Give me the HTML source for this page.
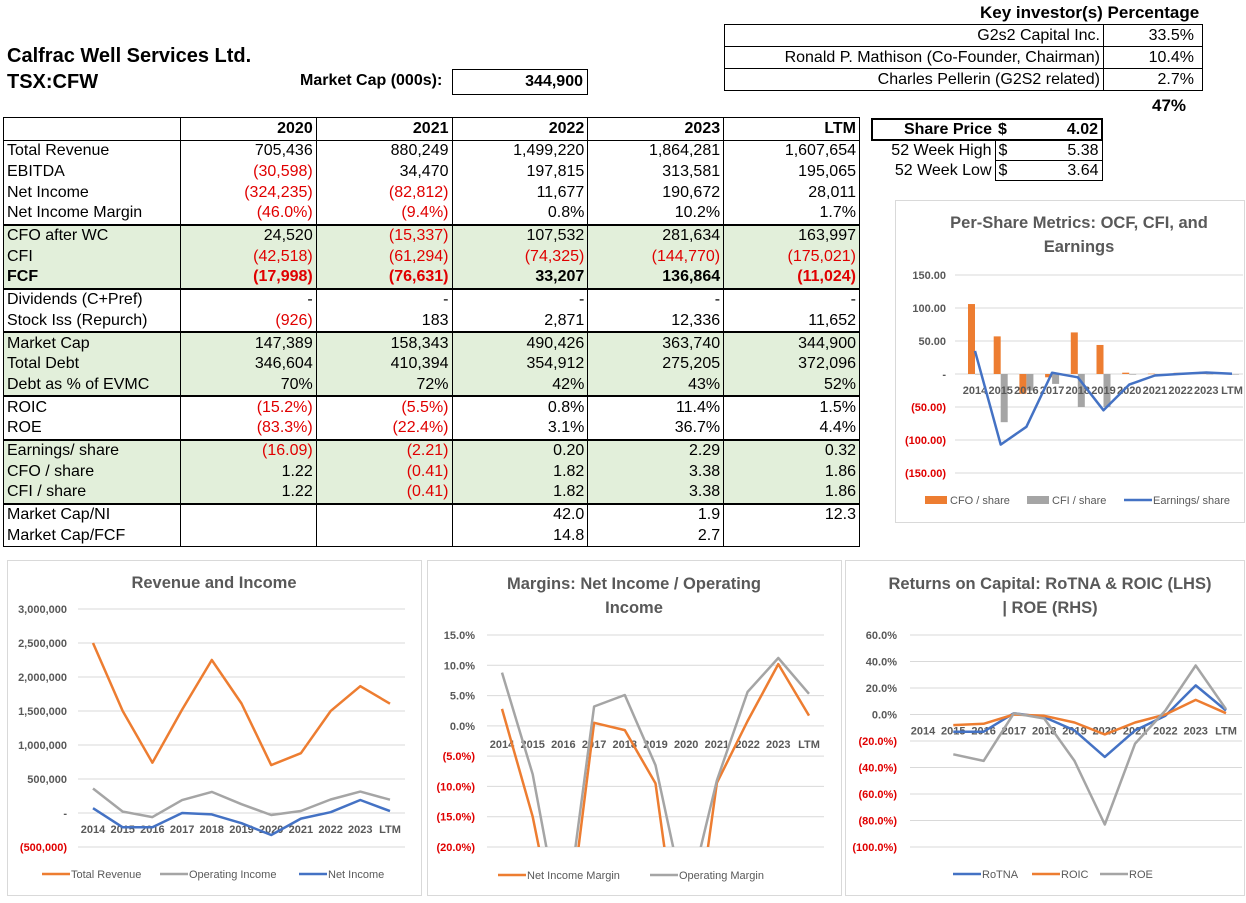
<!DOCTYPE html>
<html><head><meta charset="utf-8"><style>
body{margin:0;width:1246px;height:903px;background:#fff;position:relative;overflow:hidden;font-family:"Liberation Sans",Arial,sans-serif;color:#000}
.a{position:absolute;white-space:nowrap}
table{border-collapse:collapse;position:absolute;font-size:16px}
td{padding:0 3px;height:19px;line-height:19px;border:1px solid #000;overflow:hidden;white-space:nowrap}
.t td{border-left:1px solid #000;border-right:1px solid #000;border-top:none;border-bottom:none;line-height:20px}
.r{text-align:right}.n{color:#e00000}.g{background:#e2efda}.b{font-weight:bold}
.tb td{border-top:2px solid #000}
.box{position:absolute;border:1px solid #d9d9d9;background:#fff}
svg text{font-family:"Liberation Sans",Arial,sans-serif}
</style></head><body>
<div class="a b" style="left:7px;top:45px;font-size:20px">Calfrac Well Services Ltd.</div>
<div class="a b" style="left:7px;top:71px;font-size:20px">TSX:CFW</div>
<div class="a b" style="left:300px;top:72px;font-size:16px">Market Cap (000s):</div>
<div class="a b" style="left:452px;top:69px;width:134px;height:24px;border:1px solid #000;text-align:right;font-size:16px;line-height:24px"><span style="margin-right:4px">344,900</span></div>

<div class="a b" style="left:980px;top:3px;font-size:17px">Key investor(s) Percentage</div>
<table style="left:724px;top:24px;width:479px">
<tr><td class="r" style="height:21px;width:372px">G2s2 Capital Inc.</td><td class="r" style="padding-right:8px">33.5%</td></tr>
<tr><td class="r" style="height:21px">Ronald P. Mathison (Co-Founder, Chairman)</td><td class="r" style="padding-right:8px">10.4%</td></tr>
<tr><td class="r" style="height:21px">Charles Pellerin (G2S2 related)</td><td class="r" style="padding-right:8px">2.7%</td></tr>
</table>
<div class="a b" style="left:1152px;top:96px;font-size:17px">47%</div>

<table style="left:871px;top:118px;width:232px">
<tr><td class="r b" style="border:2px solid #000;border-right:none;width:116px">Share Price</td><td class="b" style="border:2px solid #000;border-left:none">$<span style="float:right">4.02</span></td></tr>
<tr><td class="r" style="border:none;border-right:1px solid #000">52 Week High</td><td>$<span style="float:right">5.38</span></td></tr>
<tr><td class="r" style="border:none;border-right:1px solid #000">52 Week Low</td><td>$<span style="float:right">3.64</span></td></tr>
</table>

<table class="t" id="fin" style="left:3px;top:117px;width:857px;border:1px solid #000">
<colgroup><col style="width:177px"><col style="width:136px"><col style="width:136px"><col style="width:136px"><col style="width:136px"><col style="width:136px"></colgroup>
</table>

<div class="box" style="left:895px;top:200px;width:348px;height:321px"></div>
<div class="box" style="left:7px;top:560px;width:413px;height:334px"></div>
<div class="box" style="left:427px;top:560px;width:413px;height:334px"></div>
<div class="box" style="left:845px;top:560px;width:398px;height:334px"></div>
<svg id="ch" width="1246" height="903" style="position:absolute;left:0;top:0;overflow:hidden"></svg>

<script>
// ---------- table data ----------
const rowLabels=["Total Revenue","EBITDA","Net Income","Net Income Margin","CFO after WC","CFI","FCF","Dividends (C+Pref)","Stock Iss (Repurch)","Market Cap","Total Debt","Debt as % of EVMC","ROIC","ROE","Earnings/ share","CFO / share","CFI / share","Market Cap/NI","Market Cap/FCF"];
const rowValues=[
["705,436","880,249","1,499,220","1,864,281","1,607,654"],
["(30,598)","34,470","197,815","313,581","195,065"],
["(324,235)","(82,812)","11,677","190,672","28,011"],
["(46.0%)","(9.4%)","0.8%","10.2%","1.7%"],
["24,520","(15,337)","107,532","281,634","163,997"],
["(42,518)","(61,294)","(74,325)","(144,770)","(175,021)"],
["(17,998)","(76,631)","33,207","136,864","(11,024)"],
["-","-","-","-","-"],
["(926)","183","2,871","12,336","11,652"],
["147,389","158,343","490,426","363,740","344,900"],
["346,604","410,394","354,912","275,205","372,096"],
["70%","72%","42%","43%","52%"],
["(15.2%)","(5.5%)","0.8%","11.4%","1.5%"],
["(83.3%)","(22.4%)","3.1%","36.7%","4.4%"],
["(16.09)","(2.21)","0.20","2.29","0.32"],
["1.22","(0.41)","1.82","3.38","1.86"],
["1.22","(0.41)","1.82","3.38","1.86"],
["","","42.0","1.9","12.3"],
["","","14.8","2.7",""]];
const colHeads=["2020","2021","2022","2023","LTM"];
const greenRows=[4,5,6,9,10,11,14,15,16];
const topBorderRows=[4,7,9,12,14,17];
const fin=document.getElementById('fin');
let hr=document.createElement('tr');


hr.innerHTML='<td style="height:22px;border:1px solid #000"></td>'+colHeads.map(c=>'<td class="r b" style="border:1px solid #000">'+c+'</td>').join('');
fin.appendChild(hr);
rowLabels.forEach((l,i)=>{
  const tr=document.createElement('tr');
  
  
  if(greenRows.includes(i))tr.className='g';
  if(topBorderRows.includes(i))tr.classList.add('tb');
  const bold=i==6?' b':'';
  let h='<td class="'+bold+'" style="height:20.7px">'+l+'</td>';
  rowValues[i].forEach(v=>{h+='<td class="r'+bold+(v.startsWith('(')?' n':'')+'">'+v+'</td>';});
  tr.innerHTML=h;fin.appendChild(tr);
});

// ---------- chart data ----------
const years=["2014","2015","2016","2017","2018","2019","2020","2021","2022","2023","LTM"];
const cfoShare=[106,57,-30,-5,63,44,2,0.5,1.8,3.4,1.9];
const cfiShare=[0,-73,-25,-15,-50,-50,-1,-0.4,-0.5,-0.8,-0.9];
const epsShare=[35,-107,-80,2,-5,-55,-16,-2.2,0.2,2.3,0.3];
const perShareTicks=[150,100,50,0,-50,-100,-150];
const revenue=[2500000,1500000,740000,1520000,2250000,1610000,705000,880000,1499000,1864000,1608000];
const opIncome=[360000,20000,-60000,190000,310000,130000,-30000,30000,198000,314000,195000];
const netIncome=[70000,-210000,-210000,0,-20000,-150000,-324000,-83000,12000,191000,28000];
const revTicks=[3000000,2500000,2000000,1500000,1000000,500000,0,-500000];
const niMargin=[2.8,-15,-40,0.5,-0.7,-9.5,-46,-9.4,0.8,10.2,1.7];
const opMargin=[8.8,-8,-35,3.2,5.1,-6.5,-30,-9,5.6,11.2,5.3];
const marginTicks=[15,10,5,0,-5,-10,-15,-20];
const rotna=[null,-13,-13,1,-2,-12,-32,-12,-1,22,3];
const roic=[null,-8,-7,0,-1,-6,-15,-6,0,11,1];
const roe=[null,-30,-35,1,-3,-35,-83,-22,3,37,4];
const retTicks=[60,40,20,0,-20,-40,-60,-80,-100];

const ORANGE='#ed7d31',GRAY='#a5a5a5',BLUE='#4472c4',TXT='#595959';
const svg=document.getElementById('ch');
const NS='http://www.w3.org/2000/svg';
function el(t,a,txt){const e=document.createElementNS(NS,t);for(const k in a)e.setAttribute(k,a[k]);if(txt!==undefined)e.textContent=txt;svg.appendChild(e);return e;}
function fmtNum(v){const s=Math.abs(v).toLocaleString('en-US');return v==0?'-':v<0?'('+s+')':s;}
function fmtDec(v){const s=Math.abs(v).toFixed(2);return v==0?'-':v<0?'('+s+')':s;}
function fmtPct(v){const s=Math.abs(v).toFixed(1)+'%';return v<0?'('+s+')':s;}

function chart(c){
  const yS=v=>c.y0+(v-c.vmin)*(c.y1-c.y0)/(c.vmax-c.vmin);
  const xS=i=>c.x0+i*(c.x1-c.x0)/(years.length-1);
  c.titles.forEach((t,k)=>{const e=el('text',{x:c.tx,y:c.ty+k*24,'text-anchor':'middle','font-size':16.5,'font-weight':'bold',fill:TXT},t);
    });
  c.ticks.forEach(v=>{
    const y=yS(v);
    const g=el('line',{x1:c.gx0,x2:c.gx1,y1:y,y2:y,stroke:'#d9d9d9','stroke-width':1});
    
    const t=el('text',{x:c.lx,y:y+4,'text-anchor':'end','font-size':c.tfs||11,'font-weight':'bold',fill:v<0?'#e00000':TXT},c.fmt(v));
    
  });
  const zy=yS(0);
  if(c.bars){
    const bw=c.bw;
    c.bars.forEach((b,bi)=>b.data.forEach((v,i)=>{
      const x=xS(i)+(bi==0?-bw:0), y=Math.min(yS(v),zy), h=Math.abs(yS(v)-zy);
      const r=el('rect',{x:x,y:y,width:bw,height:Math.max(h,0.5),fill:b.color});
      
    }));
  }
  years.forEach((yr,i)=>{const t=el('text',{x:xS(i),y:zy+c.xoff,'text-anchor':'middle','font-size':11,'font-weight':'bold',fill:TXT},yr);
    });
  const cid='clip'+c.id;
  const cp=el('clipPath',{id:cid});const cr=document.createElementNS(NS,'rect');
  cr.setAttribute('x',c.gx0);cr.setAttribute('y',Math.min(c.y0,c.y1)-5);cr.setAttribute('width',c.gx1-c.gx0);cr.setAttribute('height',Math.abs(c.y1-c.y0)+5);cp.appendChild(cr);
  c.lines.forEach(s=>{
    let d='';s.data.forEach((v,i)=>{if(v===null)return;d+=(d?'L':'M')+xS(i).toFixed(1)+' '+yS(v).toFixed(1);});
    const a={d:d,fill:'none',stroke:s.color,'stroke-width':2.5,'stroke-linejoin':'round'};
    if(c.clip)a['clip-path']='url(#'+cid+')';
    const p=el('path',a);
    
  });
  c.legend.forEach(L=>{
    if(L.bar){const r=el('rect',{x:L.x,y:c.ly-4,width:22,height:8,fill:L.color});}
    else{const r=el('line',{x1:L.x,x2:L.x+28,y1:c.ly,y2:c.ly,stroke:L.color,'stroke-width':2.5});}
    const t=el('text',{x:L.x+(L.bar?25:29),y:c.ly+4,'font-size':11,fill:TXT},L.label);
    
  });
}
chart({id:1,titles:['Per-Share Metrics: OCF, CFI, and','Earnings'],tx:1079,ty:228,vmin:-150,vmax:150,y0:473,y1:275,x0:975,x1:1232,gx0:955,gx1:1243,lx:946,fmt:fmtDec,ticks:perShareTicks,xoff:20,bw:7,
  bars:[{key:'cfo',data:cfoShare,color:ORANGE},{key:'cfi',data:cfiShare,color:GRAY}],
  lines:[{key:'eps',data:epsShare,color:BLUE}],ly:500,
  legend:[{x:925,bar:1,color:ORANGE,label:'CFO / share'},{x:1027,bar:1,color:GRAY,label:'CFI / share'},{x:1124,color:BLUE,label:'Earnings/ share'}]});
chart({id:2,titles:['Revenue and Income'],tx:214,ty:588,vmin:-500000,vmax:3000000,y0:847,y1:609,x0:93,x1:390,gx0:78,gx1:405,lx:67,fmt:fmtNum,ticks:revTicks,xoff:20,
  lines:[{key:'revenue',data:revenue,color:ORANGE},{key:'operating-income',data:opIncome,color:GRAY},{key:'net-income',data:netIncome,color:BLUE}],ly:874,
  legend:[{x:42,color:ORANGE,label:'Total Revenue'},{x:160,color:GRAY,label:'Operating Income'},{x:299,color:BLUE,label:'Net Income'}]});
chart({id:3,titles:['Margins: Net Income / Operating','Income'],tx:634,ty:589,vmin:-20,vmax:15,y0:847,y1:635,x0:502,x1:809,gx0:487,gx1:824,lx:475,fmt:fmtPct,ticks:marginTicks,xoff:22,clip:1,
  lines:[{key:'net-income-margin',data:niMargin,color:ORANGE},{key:'operating-margin',data:opMargin,color:GRAY}],ly:875,
  legend:[{x:498,color:ORANGE,label:'Net Income Margin'},{x:650,color:GRAY,label:'Operating Margin'}]});
chart({id:4,titles:['Returns on Capital: RoTNA & ROIC (LHS)','| ROE (RHS)'],tx:1050,ty:589,vmin:-100,vmax:60,y0:847,y1:635,x0:923,x1:1226,gx0:910,gx1:1242,lx:897,fmt:fmtPct,ticks:retTicks,xoff:20,
  lines:[{key:'rotna',data:rotna,color:BLUE},{key:'roic',data:roic,color:ORANGE},{key:'roe',data:roe,color:GRAY}],ly:874,
  legend:[{x:953,color:BLUE,label:'RoTNA'},{x:1032,color:ORANGE,label:'ROIC'},{x:1100,color:GRAY,label:'ROE'}]});
</script>
</body></html>
